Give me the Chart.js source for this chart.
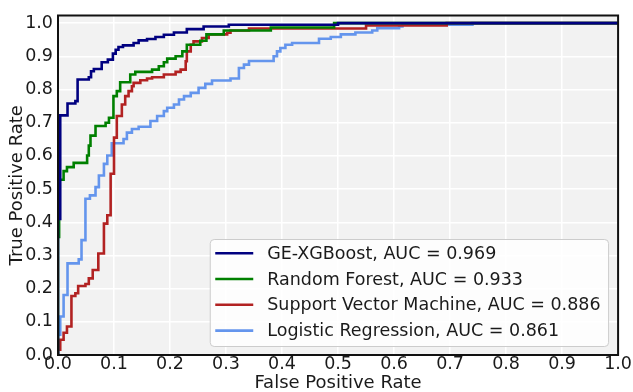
<!DOCTYPE html>
<html>
<head>
<meta charset="utf-8">
<script src="https://cdn.jsdelivr.net/npm/chart.js@4/dist/chart.umd.min.js"></script>
<style>
  html, body { margin: 0; padding: 0; background: #ffffff; }
  #wrap { width: 633px; height: 392px; }
</style>
</head>
<body>
<div id="wrap"><canvas id="c" width="633" height="392"></canvas></div>
<script>
// ---- Data ----
const seriesLabels = [
  'GE-XGBoost, AUC = 0.969',
  'Random Forest, AUC = 0.933',
  'Support Vector Machine, AUC = 0.886',
  'Logistic Regression, AUC = 0.861'
];
const seriesColors = ['#000080', '#008000', '#b22222', '#6495ed'];

const xTickLabels = ['0.0','0.1','0.2','0.3','0.4','0.5','0.6','0.7','0.8','0.9','1.0'];
const yTickLabels = ['0.0','0.1','0.2','0.3','0.4','0.5','0.6','0.7','0.8','0.9','1.0'];

// Each point is the top of a vertical rise of the ROC step curve
const xgbFpr = [0, 0, 0.004, 0.017, 0.031, 0.035, 0.055, 0.059, 0.064, 0.078, 0.089, 0.098, 0.103, 0.108, 0.116, 0.135, 0.144, 0.159, 0.174, 0.189, 0.207, 0.230, 0.260, 0.305, 0.500, 1.0];
const xgbTpr = [0, 0.410, 0.722, 0.758, 0.765, 0.830, 0.837, 0.855, 0.862, 0.882, 0.890, 0.908, 0.920, 0.928, 0.933, 0.940, 0.948, 0.952, 0.958, 0.965, 0.972, 0.982, 0.990, 0.995, 1.0, 1.0];

const rfFpr = [0, 0, 0.002, 0.010, 0.016, 0.028, 0.052, 0.055, 0.058, 0.067, 0.085, 0.091, 0.099, 0.105, 0.111, 0.129, 0.138, 0.168, 0.180, 0.189, 0.195, 0.210, 0.222, 0.230, 0.254, 0.265, 0.296, 0.380, 0.493, 1.0];
const rfTpr = [0, 0.356, 0.528, 0.554, 0.566, 0.579, 0.601, 0.631, 0.661, 0.690, 0.700, 0.715, 0.780, 0.795, 0.822, 0.845, 0.853, 0.860, 0.870, 0.882, 0.893, 0.900, 0.915, 0.935, 0.947, 0.966, 0.978, 0.987, 1.0, 1.0];

const svmFpr = [0, 0, 0.004, 0.010, 0.016, 0.024, 0.031, 0.036, 0.049, 0.055, 0.062, 0.072, 0.082, 0.088, 0.094, 0.100, 0.105, 0.114, 0.120, 0.126, 0.132, 0.135, 0.147, 0.159, 0.168, 0.189, 0.210, 0.219, 0.228, 0.230, 0.237, 0.242, 0.257, 0.269, 0.302, 0.308, 0.341, 0.550, 0.694, 1.0];
const svmTpr = [0, 0.016, 0.046, 0.067, 0.086, 0.178, 0.186, 0.208, 0.214, 0.231, 0.256, 0.306, 0.396, 0.421, 0.546, 0.655, 0.720, 0.755, 0.780, 0.795, 0.810, 0.820, 0.828, 0.833, 0.837, 0.845, 0.853, 0.860, 0.885, 0.915, 0.935, 0.945, 0.955, 0.966, 0.971, 0.978, 0.984, 0.993, 1.0, 1.0];

const lrFpr = [0, 0, 0.004, 0.010, 0.017, 0.037, 0.042, 0.049, 0.057, 0.067, 0.073, 0.082, 0.088, 0.096, 0.117, 0.123, 0.132, 0.144, 0.165, 0.177, 0.189, 0.195, 0.207, 0.216, 0.225, 0.237, 0.251, 0.263, 0.275, 0.308, 0.323, 0.332, 0.341, 0.385, 0.391, 0.397, 0.406, 0.418, 0.466, 0.487, 0.505, 0.531, 0.561, 0.570, 0.609, 0.615, 0.740, 1.0];
const lrTpr = [0, 0.061, 0.116, 0.181, 0.276, 0.288, 0.346, 0.471, 0.481, 0.506, 0.541, 0.576, 0.601, 0.638, 0.651, 0.670, 0.681, 0.688, 0.705, 0.720, 0.735, 0.745, 0.755, 0.770, 0.780, 0.790, 0.805, 0.817, 0.827, 0.833, 0.865, 0.875, 0.886, 0.900, 0.915, 0.925, 0.935, 0.940, 0.953, 0.958, 0.966, 0.972, 0.978, 0.985, 0.990, 0.995, 1.0, 1.0];

const seriesFpr = [xgbFpr, rfFpr, svmFpr, lrFpr];
const seriesTpr = [xgbTpr, rfTpr, svmTpr, lrTpr];

// ---- Build datasets ----
const datasets = seriesLabels.map((label, i) => ({
  label,
  data: seriesFpr[i].map((x, j) => ({ x, y: seriesTpr[i][j] })),
  borderColor: seriesColors[i],
  backgroundColor: seriesColors[i],
  borderWidth: 2.6,
  pointRadius: 0,
  stepped: 'before',
  fill: false,
  tension: 0
}));

const FONT = '"DejaVu Sans", sans-serif';
const TICK_SIZE = 17.5;
const TITLE_SIZE = 18;
const LEGEND_SIZE = 17.5;

const plotBg = {
  id: 'plotBg',
  beforeDraw(chart) {
    const { ctx, chartArea: a } = chart;
    ctx.save();
    ctx.fillStyle = '#f2f2f2';
    ctx.fillRect(a.left, a.top, a.right - a.left, a.bottom - a.top);
    ctx.restore();
  },
  afterDatasetsDraw(chart) {
    const { ctx, chartArea: a } = chart;
    ctx.save();
    ctx.strokeStyle = '#111111';
    ctx.lineWidth = 2;
    ctx.strokeRect(a.left, a.top, a.right - a.left, a.bottom - a.top);
    ctx.restore();
  }
};

const boxLegend = {
  id: 'boxLegend',
  afterDraw(chart) {
    const { ctx, chartArea: a } = chart;
    const ds = chart.data.datasets;
    ctx.save();
    ctx.font = LEGEND_SIZE + 'px ' + FONT;
    const tw = Math.max(...ds.map(d => ctx.measureText(d.label).width));
    const padL = 5, handle = 38, gap = 14, padR = 8;
    const rowH = 25.8, firstRow = 13.7;
    const w = padL + handle + gap + tw + padR;
    const h = 107;
    const x0 = a.right - 9.5 - w;
    const y0 = a.bottom - 8.5 - h;
    ctx.beginPath();
    if (ctx.roundRect) ctx.roundRect(x0, y0, w, h, 4); else ctx.rect(x0, y0, w, h);
    ctx.fillStyle = 'rgba(255,255,255,0.8)';
    ctx.fill();
    ctx.strokeStyle = '#cccccc';
    ctx.lineWidth = 1;
    ctx.stroke();
    ds.forEach((d, i) => {
      const y = y0 + firstRow + i * rowH;
      ctx.beginPath();
      ctx.moveTo(x0 + padL, y);
      ctx.lineTo(x0 + padL + handle, y);
      ctx.strokeStyle = d.borderColor;
      ctx.lineWidth = 2.6;
      ctx.stroke();
      ctx.fillStyle = '#1a1a1a';
      ctx.textBaseline = 'middle';
      ctx.textAlign = 'left';
      ctx.fillText(d.label, x0 + padL + handle + gap, y + 1);
    });
    ctx.restore();
  }
};

new Chart(document.getElementById('c'), {
  type: 'line',
  data: { datasets },
  plugins: [plotBg, boxLegend],
  options: {
    responsive: false,
    animation: false,
    devicePixelRatio: 1,
    layout: { padding: { top: 14, right: 13.5, left: 0, bottom: 0 } },
    plugins: { legend: { display: false }, tooltip: { enabled: false } },
    scales: {
      x: {
        type: 'linear',
        min: 0, max: 1,
        afterFit: s => { s.height = 37; },
        border: { display: false },
        grid: { color: '#ffffff', lineWidth: 1.5, drawTicks: false },
        ticks: {
          stepSize: 0.1, includeBounds: false, autoSkip: false, maxRotation: 0,
          padding: 1, color: '#1a1a1a', font: { family: FONT, size: TICK_SIZE, lineHeight: 1 },
          callback: (v) => xTickLabels[Math.round(v * 10)]
        },
        title: { display: true, text: 'False Positive Rate', color: '#1a1a1a',
                 font: { family: FONT, size: TITLE_SIZE, lineHeight: 1 }, padding: { top: 0, bottom: 0 } }
      },
      y: {
        type: 'linear',
        min: 0, max: 1.023,
        afterFit: s => { s.width = 58; },
        border: { display: false },
        grid: { color: '#ffffff', lineWidth: 1.5, drawTicks: false },
        ticks: {
          stepSize: 0.1, includeBounds: false, autoSkip: false,
          padding: 5, color: '#1a1a1a', font: { family: FONT, size: TICK_SIZE },
          callback: (v) => yTickLabels[Math.round(v * 10)]
        },
        title: { display: true, text: 'True Positive Rate', color: '#1a1a1a',
                 font: { family: FONT, size: TITLE_SIZE, lineHeight: 1 }, padding: { top: 8.5, bottom: 0 } }
      }
    }
  }
});
</script>
</body>
</html>
